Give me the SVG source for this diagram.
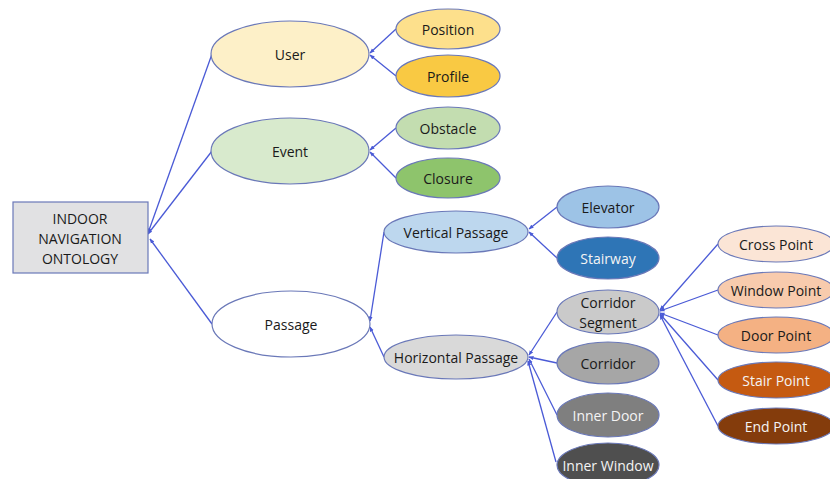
<svg xmlns="http://www.w3.org/2000/svg" width="830" height="479" viewBox="0 0 830 479">
<style>
.n{stroke:#6a78b8;stroke-width:1.2}
.t{font-family:"Open Sans","Liberation Sans",sans-serif;font-size:14px;fill:#1a1a1a;text-anchor:middle;dominant-baseline:central}
.w{fill:#f4f4f4}
.c line{stroke:#4a5ad6;stroke-width:1.3;marker-end:url(#a)}
</style>
<defs>
<marker id="a" viewBox="0 0 10 10" refX="9" refY="5" markerWidth="5" markerHeight="5" orient="auto" markerUnits="userSpaceOnUse">
<path d="M0,1 L10,5 L0,9 z" fill="#4a5ad6"/>
</marker>
</defs>
<rect width="830" height="479" fill="#ffffff"/>
<g class="c" id="connectors">
<line x1="212" y1="54" x2="148" y2="233"/>
<line x1="212" y1="151" x2="148" y2="234"/>
<line x1="212" y1="324" x2="150" y2="239"/>
<line x1="396" y1="29" x2="370" y2="53"/>
<line x1="396" y1="76" x2="370" y2="55"/>
<line x1="396" y1="128" x2="370" y2="150"/>
<line x1="396" y1="178" x2="370" y2="152"/>
<line x1="384" y1="232" x2="370" y2="321"/>
<line x1="384" y1="357" x2="370" y2="327"/>
<line x1="557" y1="207" x2="529" y2="229"/>
<line x1="557" y1="258" x2="529" y2="232"/>
<line x1="557" y1="312" x2="529" y2="355"/>
<line x1="557" y1="363" x2="529" y2="357"/>
<line x1="557" y1="415" x2="529" y2="359"/>
<line x1="556" y1="462" x2="528" y2="361"/>
<line x1="718" y1="244" x2="660" y2="310"/>
<line x1="718" y1="290" x2="660" y2="311"/>
<line x1="718" y1="335" x2="660" y2="313"/>
<line x1="718" y1="380" x2="660" y2="314"/>
<line x1="718" y1="426" x2="660" y2="315"/>
</g>
<g id="root"><rect class="n" x="13" y="202" width="135" height="71" fill="#e1e1e3"/>
<text class="t" x="80" y="218">INDOOR</text><text class="t" x="80" y="238">NAVIGATION</text><text class="t" x="80" y="258">ONTOLOGY</text></g>
<g id="user"><ellipse class="n" cx="290" cy="54" rx="79" ry="33" fill="#fdf0c8"/><text class="t" x="290" y="54">User</text></g>
<g id="event"><ellipse class="n" cx="290" cy="151" rx="79" ry="33" fill="#d8eacd"/><text class="t" x="290" y="151">Event</text></g>
<g id="passage"><ellipse class="n" cx="291" cy="324" rx="79" ry="33" fill="#ffffff"/><text class="t" x="291" y="324">Passage</text></g>
<g id="position"><ellipse class="n" cx="448" cy="29" rx="52" ry="20" fill="#fde08c"/><text class="t" x="448" y="29">Position</text></g>
<g id="profile"><ellipse class="n" cx="448" cy="76" rx="52" ry="21" fill="#f9c943"/><text class="t" x="448" y="76">Profile</text></g>
<g id="obstacle"><ellipse class="n" cx="448" cy="128" rx="52" ry="21" fill="#c3ddb0"/><text class="t" x="448" y="128">Obstacle</text></g>
<g id="closure"><ellipse class="n" cx="448" cy="178" rx="52" ry="20" fill="#8ec46c"/><text class="t" x="448" y="178">Closure</text></g>
<g id="vertical"><ellipse class="n" cx="456" cy="232" rx="72" ry="21" fill="#bdd7ee"/><text class="t" x="456" y="232">Vertical Passage</text></g>
<g id="horizontal"><ellipse class="n" cx="456" cy="357" rx="72" ry="22" fill="#d9d9d9"/><text class="t" x="456" y="357">Horizontal Passage</text></g>
<g id="elevator"><ellipse class="n" cx="608" cy="207" rx="51" ry="21" fill="#9dc3e6"/><text class="t" x="608" y="207">Elevator</text></g>
<g id="stairway"><ellipse class="n" cx="608" cy="258" rx="51" ry="21" fill="#2e75b6"/><text class="t w" x="608" y="258">Stairway</text></g>
<g id="corridorsegment"><ellipse class="n" cx="608" cy="312" rx="51" ry="22" fill="#cacaca"/><text class="t" x="608" y="302">Corridor</text><text class="t" x="608" y="322">Segment</text></g>
<g id="corridor"><ellipse class="n" cx="608" cy="363" rx="51" ry="21" fill="#a6a6a6"/><text class="t" x="608" y="363">Corridor</text></g>
<g id="innerdoor"><ellipse class="n" cx="608" cy="415" rx="51" ry="22" fill="#7f7f7f"/><text class="t w" x="608" y="415">Inner Door</text></g>
<g id="innerwindow"><ellipse class="n" cx="608" cy="465" rx="51" ry="22" fill="#4f4f4f"/><text class="t w" x="608" y="465">Inner Window</text></g>
<g id="crosspoint"><ellipse class="n" cx="776" cy="244" rx="58" ry="18" fill="#fbe5d6"/><text class="t" x="776" y="244">Cross Point</text></g>
<g id="windowpoint"><ellipse class="n" cx="776" cy="290" rx="58" ry="18" fill="#f8cbad"/><text class="t" x="776" y="290">Window Point</text></g>
<g id="doorpoint"><ellipse class="n" cx="776" cy="335" rx="58" ry="18" fill="#f4b183"/><text class="t" x="776" y="335">Door Point</text></g>
<g id="stairpoint"><ellipse class="n" cx="776" cy="380" rx="58" ry="18" fill="#c55a11"/><text class="t w" x="776" y="380">Stair Point</text></g>
<g id="endpoint"><ellipse class="n" cx="776" cy="426" rx="58" ry="18" fill="#843c0c"/><text class="t w" x="776" y="426">End Point</text></g>
</svg>
